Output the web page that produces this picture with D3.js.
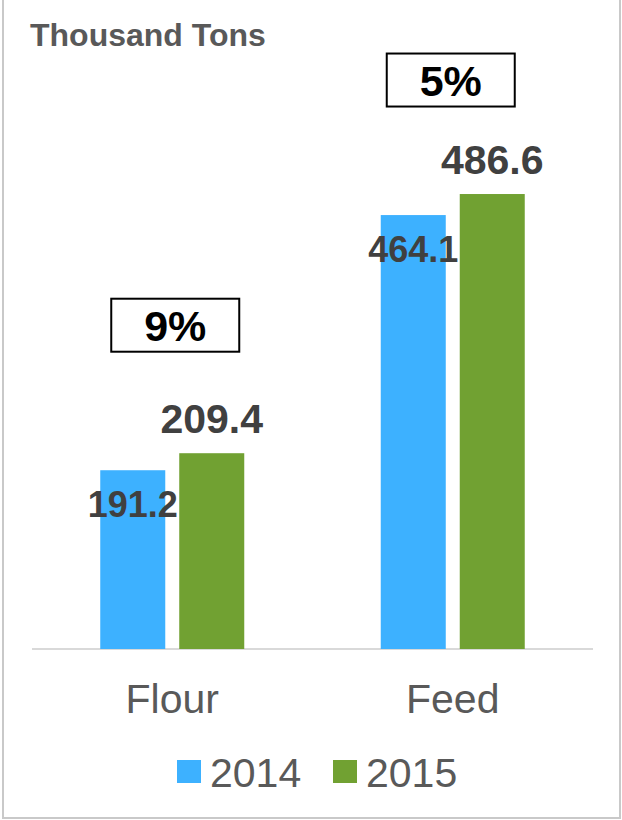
<!DOCTYPE html>
<html>
<head>
<meta charset="utf-8">
<script src="https://cdn.jsdelivr.net/npm/d3@7"></script>
<style>
  html, body { margin: 0; padding: 0; background: #fff; }
  svg { display: block; font-family: "Liberation Sans", Arial, sans-serif; }
</style>
</head>
<body>
<svg id="chart" width="622" height="820"></svg>
<script>
// Milling volumes by use, thousand tons
const categories = ["Flour", "Feed"];
const years = ["2014", "2015"];
const values2014 = [191.2, 464.1];
const values2015 = [209.4, 486.6];
const changeLabels = ["9%", "5%"];
const unitTitle = "Thousand Tons";

const seriesColors = ["#3db1ff", "#71a132"];
const textGray = "#595959";
const labelGray = "#404040";
// how far each change box sits above its taller bar
const boxLift = [128, 114];

const W = 622, H = 820;
const svg = d3.select("#chart");

// frame
svg.append("path")
  .attr("d", `M3,-2 V818 H620 V-2`)
  .attr("fill", "none")
  .attr("stroke", "#c9c9c9")
  .attr("stroke-width", 2);

const plotLeft = 32, plotRight = 593, baseY = 649;

const x = d3.scaleBand().domain(categories).range([plotLeft, plotRight]).padding(0);
const xInner = d3.scaleBand().domain(years).range([0, x.bandwidth()])
  .paddingInner(0.177).paddingOuter(0.864);
const y = d3.scaleLinear().domain([0, 600]).range([baseY, 88]);

const rows = categories.map((c, i) => ({
  cat: c,
  vals: [values2014[i], values2015[i]],
  change: changeLabels[i],
  lift: boxLift[i]
}));

// title
svg.append("text")
  .attr("x", 30).attr("y", 46)
  .attr("font-size", 32).attr("font-weight", "bold")
  .attr("fill", textGray)
  .text(unitTitle);

// baseline
svg.append("line")
  .attr("x1", plotLeft).attr("x2", plotRight)
  .attr("y1", baseY).attr("y2", baseY)
  .attr("stroke", "#d9d9d9").attr("stroke-width", 2);

const groups = svg.selectAll("g.cat").data(rows).join("g")
  .attr("class", "cat")
  .attr("transform", d => `translate(${x(d.cat)},0)`);

// bars
groups.selectAll("rect.bar")
  .data(d => d.vals.map((v, j) => ({ v, year: years[j], j })))
  .join("rect")
  .attr("class", "bar")
  .attr("x", d => xInner(d.year))
  .attr("width", xInner.bandwidth())
  .attr("y", d => y(d.v))
  .attr("height", d => baseY - y(d.v))
  .attr("fill", d => seriesColors[d.j]);

// value labels: 2014 inside the bar top, 2015 above the bar
groups.selectAll("text.val")
  .data(d => d.vals.map((v, j) => ({ v, year: years[j], j })))
  .join("text")
  .attr("class", "val")
  .attr("x", d => xInner(d.year) + xInner.bandwidth() / 2)
  .attr("y", d => d.j === 0 ? y(d.v) + 47 : y(d.v) - 20)
  .attr("text-anchor", "middle")
  .attr("font-size", d => d.j === 0 ? 36 : 41)
  .attr("font-weight", "bold")
  .attr("fill", labelGray)
  .text(d => d.v.toFixed(1));

// change boxes
const boxW = 128, boxH = 53;
groups.each(function (d, i) {
  const g = d3.select(this);
  const cx = x.bandwidth() / 2 + (i === 0 ? 3 : -2);
  const cy = y(d3.max(d.vals)) - d.lift;
  g.append("rect")
    .attr("x", cx - boxW / 2).attr("y", cy - boxH / 2)
    .attr("width", boxW).attr("height", boxH)
    .attr("fill", "#fff").attr("stroke", "#000").attr("stroke-width", 2);
  g.append("text")
    .attr("x", cx).attr("y", cy + 16)
    .attr("text-anchor", "middle")
    .attr("font-size", 43).attr("font-weight", "bold")
    .attr("fill", "#000")
    .text(d.change);
});

// category axis labels
svg.append("g").selectAll("text").data(categories).join("text")
  .attr("x", d => x(d) + x.bandwidth() / 2)
  .attr("y", 713)
  .attr("text-anchor", "middle")
  .attr("font-size", 41)
  .attr("fill", textGray)
  .text(d => d);

// legend
const legendX = [177, 333];
const legend = svg.append("g").selectAll("g").data(years).join("g")
  .attr("transform", (d, i) => `translate(${legendX[i]},0)`);
legend.append("rect")
  .attr("x", 0).attr("y", 760).attr("width", 24).attr("height", 23)
  .attr("fill", (d, i) => seriesColors[i]);
legend.append("text")
  .attr("x", 33).attr("y", 787)
  .attr("font-size", 41)
  .attr("fill", textGray)
  .text(d => d);
</script>
</body>
</html>
